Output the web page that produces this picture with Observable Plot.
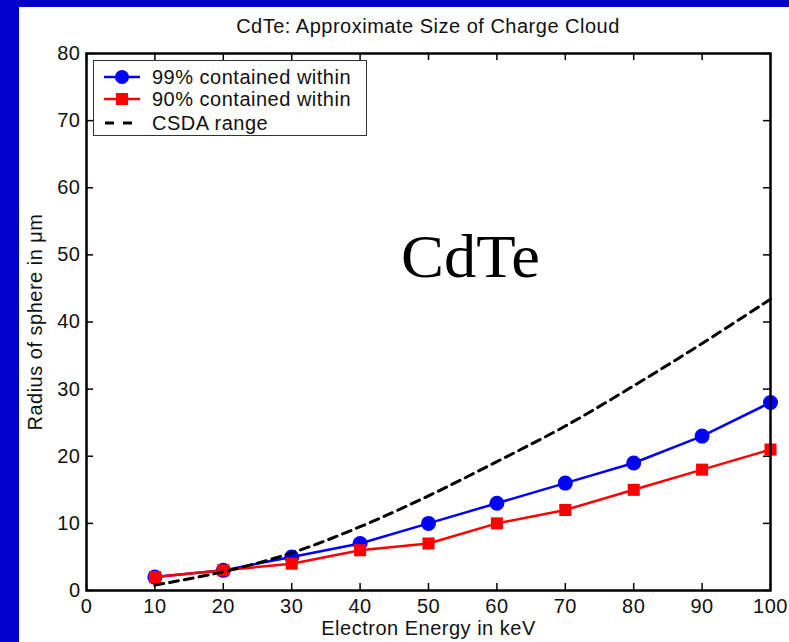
<!DOCTYPE html>
<html>
<head>
<meta charset="utf-8">
<script src="https://cdn.jsdelivr.net/npm/d3@7"></script>
<script src="https://cdn.jsdelivr.net/npm/@observablehq/plot@0.6"></script>
<style>
  html, body { margin: 0; padding: 0; background: white; }
  #wrap { position: relative; width: 789px; height: 642px; overflow: hidden; background: white; font-family: "Liberation Sans", Arial, Helvetica, sans-serif; }
  .bar-top { position: absolute; left: 0; top: 0; width: 789px; height: 7px; background: #0000cc; }
  .bar-left { position: absolute; left: 0; top: 0; width: 19px; height: 642px; background: #0000cc; }
  #title { position: absolute; left: 86px; width: 684px; top: 15px; text-align: center; font-size: 20px; letter-spacing: 0.5px; color: #111; }
  #cdte { position: absolute; left: 401px; top: 221px; font-family: "Liberation Serif", "Times New Roman", serif; font-size: 62px; color: #000; transform: scaleX(1.04); transform-origin: left center; }
  #legend { position: absolute; left: 93px; top: 60px; width: 274px; height: 76px; border: 1px solid #333; background: white; box-sizing: border-box; }
  .row { position: absolute; left: 0; height: 24px; display: flex; align-items: center; font-size: 20px; letter-spacing: 0.5px; color: #111; white-space: nowrap; }
  .row svg { margin-left: 10px; margin-right: 12px; }
  #chart { position: absolute; left: 0; top: 0; }
</style>
</head>
<body>
<div id="wrap">
  <div class="bar-top"></div>
  <div class="bar-left"></div>
  <div id="chart"></div>
  <div id="title">CdTe: Approximate Size of Charge Cloud</div>
  <div id="cdte">CdTe</div>
  <div id="legend"></div>
</div>
<script>
// ---- data ----
const energy = [10, 20, 30, 40, 50, 60, 70, 80, 90, 100];
const contained99 = [2, 3, 5, 7, 10, 13, 16, 19, 23, 28];
const contained90 = [2, 3, 4, 6, 7, 10, 12, 15, 18, 21];
const csdaRange = [0.8, 2.8, 5.6, 9.5, 14.1, 19.2, 24.5, 30.5, 36.8, 43.4];
const xTicks = [0, 10, 20, 30, 40, 50, 60, 70, 80, 90, 100];
const yTicks = [0, 10, 20, 30, 40, 50, 60, 70, 80];
const seriesNames = ["99% contained within", "90% contained within", "CSDA range"];

const s99 = energy.map((e, i) => ({e, v: contained99[i]}));
const s90 = energy.map((e, i) => ({e, v: contained90[i]}));
const sCsda = energy.map((e, i) => ({e, v: csdaRange[i]}));

const W = 789, H = 642, mL = 86, mR = 19, mT = 53, mB = 52;
const innerW = W - mL - mR, innerH = H - mT - mB;
const tk = 7;

const chart = Plot.plot({
  width: W, height: H,
  marginLeft: mL, marginRight: mR, marginTop: mT, marginBottom: mB,
  style: {background: "transparent", fontFamily: "'Liberation Sans', Arial, Helvetica, sans-serif", fontSize: "20px", letterSpacing: "0.5px", color: "#111"},
  x: {domain: [0, 100]},
  y: {domain: [0, 80]},
  marks: [
    Plot.axisX({ticks: xTicks, tickSize: 0, tickPadding: 8, label: "Electron Energy in keV", labelAnchor: "center", labelOffset: 44, labelArrow: "none", fontSize: 20}),
    Plot.axisY({ticks: yTicks, tickSize: 0, tickPadding: 6, label: "Radius of sphere in μm", labelAnchor: "center", labelOffset: 59, labelArrow: "none", fontSize: 20}),
    // inward ticks on all four sides
    Plot.ruleX(xTicks, {x: d => d, insetTop: innerH - tk, stroke: "black", strokeWidth: 1.5}),
    Plot.ruleX(xTicks, {x: d => d, insetBottom: innerH - tk, stroke: "black", strokeWidth: 1.5}),
    Plot.ruleY(yTicks, {y: d => d, insetRight: innerW - tk, stroke: "black", strokeWidth: 1.5}),
    Plot.ruleY(yTicks, {y: d => d, insetLeft: innerW - tk, stroke: "black", strokeWidth: 1.5}),
    Plot.line(s99, {x: "e", y: "v", stroke: "#0000ff", strokeWidth: 2.5}),
    Plot.dot(s99, {x: "e", y: "v", r: 7.5, fill: "#0000ff", stroke: "none"}),
    Plot.line(s90, {x: "e", y: "v", stroke: "#ff0000", strokeWidth: 2.5}),
    Plot.dot(s90, {x: "e", y: "v", r: 6.8, symbol: "square", fill: "#ff0000", stroke: "none"}),
    Plot.line(sCsda, {x: "e", y: "v", stroke: "black", strokeWidth: 3, strokeDasharray: "9,6", curve: "catmull-rom"}),
    Plot.frame({stroke: "black", strokeWidth: 2.5})
  ]
});
document.getElementById("chart").appendChild(chart);

// legend
const legend = document.getElementById("legend");
const rowTops = [4, 26, 50];
const samples = [
  `<svg width="36" height="16"><line x1="0" y1="8" x2="36" y2="8" stroke="#0000ff" stroke-width="2.5"/><circle cx="18" cy="8" r="7" fill="#0000ff"/></svg>`,
  `<svg width="36" height="16"><line x1="0" y1="8" x2="36" y2="8" stroke="#ff0000" stroke-width="2.5"/><rect x="12" y="2" width="12" height="12" fill="#ff0000"/></svg>`,
  `<svg width="36" height="16"><line x1="0" y1="8" x2="36" y2="8" stroke="black" stroke-width="3" stroke-dasharray="9,9" stroke-dashoffset="-1"/></svg>`
];
seriesNames.forEach((name, i) => {
  const row = document.createElement("div");
  row.className = "row";
  row.style.top = rowTops[i] + "px";
  row.innerHTML = samples[i] + `<span>${name}</span>`;
  legend.appendChild(row);
});
</script>
</body>
</html>
